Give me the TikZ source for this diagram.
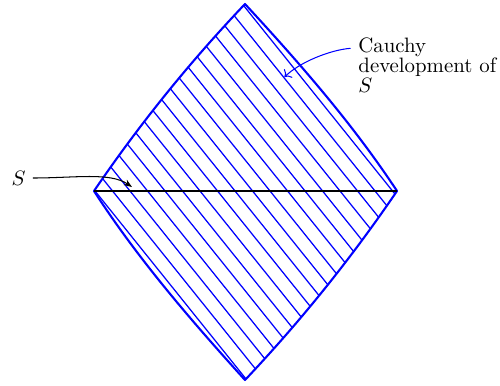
\documentclass[tikz,border=0pt]{standalone}
\usetikzlibrary{arrows.meta}
\begin{document}
\begin{tikzpicture}[x=0.48pt,y=-0.48pt,
  edge/.style={draw=blue,line width=1pt,line join=round},
  hatch/.style={blue,line width=0.6pt},
  surface/.style={black,line width=1.4pt},
  pointer/.style={line width=0.5pt},
  lbl/.style={font=\fontsize{10pt}{9.6pt}\selectfont}]
\useasboundingbox (0,0) rectangle (500,385);
\coordinate (L) at (94,191);
\coordinate (T) at (245,4);
\coordinate (R) at (397,191);
\coordinate (B) at (245,380);
% hatching
\begin{scope}
  \clip (L) .. controls (139.2,124.6) and (189.6,62.2) .. (T)
        .. controls (299.6,63.1) and (352.6,123.7) .. (R)
        .. controls (351.4,258.0) and (300.7,321.1) .. (B)
        .. controls (190.8,320.1) and (138.0,259.0) .. (L) -- cycle;
  \foreach \k in {0,...,17}
    \draw[hatch] ({95+17.5*\k-161.4},-10) -- ({95+17.5*\k+163.9},395);
\end{scope}
% boundary
\draw[edge] (L) .. controls (139.2,124.6) and (189.6,62.2) .. (T)
        .. controls (299.6,63.1) and (352.6,123.7) .. (R)
        .. controls (351.4,258.0) and (300.7,321.1) .. (B)
        .. controls (190.8,320.1) and (138.0,259.0) .. (L) -- cycle;
% surface S
\draw[surface] (L) -- (R);
% labels
\node[lbl] (slabel) at (18.5,178) {$S$};
\node[lbl, anchor=north west, inner sep=0pt, align=left] (clabel) at (358,37.2) {Cauchy\\development of\\$S$};
\coordinate (stip) at (132,187);
\coordinate (cstart) at (350.5,48.3);
\coordinate (ctip) at (284.5,77);
\draw[pointer,-{Stealth[length=4pt,width=3pt]}] (slabel.east) .. controls (75,178) and (110,172) .. (stip);
\draw[pointer,blue,->] (cstart) .. controls (330,50) and (300,62) .. (ctip);
\end{tikzpicture}
\end{document}
